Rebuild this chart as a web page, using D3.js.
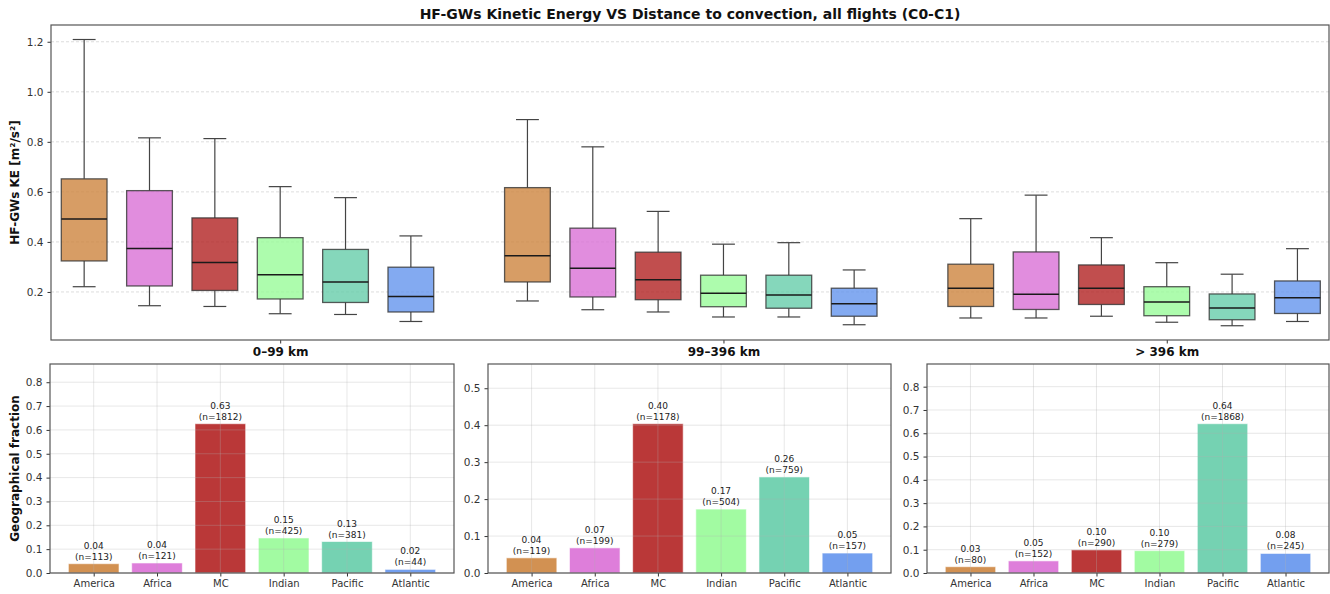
<!DOCTYPE html>
<html>
<head>
<meta charset="utf-8">
<script src="https://cdn.jsdelivr.net/npm/d3@7"></script>
<style>
  body { margin: 0; background: #fff; }
  svg { font-family: "DejaVu Sans", sans-serif; }
</style>
</head>
<body>
<svg id="chart" width="1330" height="594"></svg>
<script>
// categories
const regions = ["America", "Africa", "MC", "Indian", "Pacific", "Atlantic"];
const distanceBins = ["0–99 km", "99–396 km", "> 396 km"];
const keTicks = [0.2, 0.4, 0.6, 0.8, 1.0, 1.2];

// box stats per region: [lower whisker, q1, median, q3, upper whisker]
const boxNear = [
  [0.221, 0.324, 0.492, 0.652, 1.209],
  [0.145, 0.224, 0.374, 0.605, 0.816],
  [0.142, 0.206, 0.318, 0.496, 0.813],
  [0.113, 0.172, 0.269, 0.417, 0.621],
  [0.110, 0.158, 0.240, 0.370, 0.577],
  [0.082, 0.120, 0.182, 0.299, 0.424]
];
const boxMid = [
  [0.164, 0.240, 0.345, 0.617, 0.889],
  [0.129, 0.180, 0.295, 0.455, 0.780],
  [0.120, 0.169, 0.249, 0.359, 0.522],
  [0.100, 0.141, 0.195, 0.267, 0.391],
  [0.100, 0.135, 0.188, 0.267, 0.397],
  [0.069, 0.103, 0.153, 0.215, 0.288]
];
const boxFar = [
  [0.096, 0.142, 0.215, 0.311, 0.493],
  [0.096, 0.130, 0.191, 0.360, 0.587],
  [0.103, 0.150, 0.215, 0.308, 0.417],
  [0.079, 0.105, 0.160, 0.221, 0.317],
  [0.065, 0.089, 0.136, 0.192, 0.271],
  [0.082, 0.114, 0.177, 0.244, 0.373]
];

// geographical fraction and counts per region
const fracNear = [0.039, 0.042, 0.626, 0.147, 0.132, 0.0152];
const countNear = [113, 121, 1812, 425, 381, 44];
const fracMid = [0.041, 0.068, 0.404, 0.173, 0.260, 0.054];
const countMid = [119, 199, 1178, 504, 759, 157];
const fracFar = [0.027, 0.052, 0.0995, 0.096, 0.641, 0.084];
const countFar = [80, 152, 290, 279, 1868, 245];

const fracTicks = [
  [0, 0.1, 0.2, 0.3, 0.4, 0.5, 0.6, 0.7, 0.8],
  [0, 0.1, 0.2, 0.3, 0.4, 0.5],
  [0, 0.1, 0.2, 0.3, 0.4, 0.5, 0.6, 0.7, 0.8]
];

const colors = ["#cd853f", "#da70d6", "#b22222", "#98fb98", "#66cdaa", "#6495ed"];

const svg = d3.select("#chart");
const tickColor = "#333";
const spineColor = "#555";

// title
svg.append("text")
  .attr("x", 690).attr("y", 19)
  .attr("text-anchor", "middle")
  .attr("font-size", 14).attr("font-weight", "bold")
  .attr("fill", "#111")
  .text("HF-GWs Kinetic Energy VS Distance to convection, all flights (C0-C1)");

// ---------- top panel: boxplots ----------
const boxPanel = { left: 51, right: 1329, top: 25, bottom: 340 };
const boxStep = 0.1474;
const x = d3.scaleLinear().domain([-0.517, 2.366]).range([boxPanel.left, boxPanel.right]);
const y = d3.scaleLinear().domain([0.008, 1.267]).range([boxPanel.bottom, boxPanel.top]);

const gTop = svg.append("g");

// dashed horizontal grid
gTop.append("g").selectAll("line")
  .data(keTicks).enter().append("line")
  .attr("x1", boxPanel.left).attr("x2", boxPanel.right)
  .attr("y1", d => y(d)).attr("y2", d => y(d))
  .attr("stroke", "#d4d4d4").attr("stroke-width", 0.8)
  .attr("stroke-dasharray", "3,2");

const boxData = [];
[boxNear, boxMid, boxFar].forEach((bin, g) => {
  bin.forEach((s, i) => {
    boxData.push({ g, i, pos: g + (i - 3) * boxStep, lo: s[0], q1: s[1], med: s[2], q3: s[3], hi: s[4] });
  });
});

const bw = (x(boxStep) - x(0)) * 0.7;
const capW = bw / 2;

const boxes = gTop.append("g").selectAll("g")
  .data(boxData).enter().append("g");

boxes.append("line")
  .attr("x1", d => x(d.pos)).attr("x2", d => x(d.pos))
  .attr("y1", d => y(d.q3)).attr("y2", d => y(d.hi))
  .attr("stroke", "#444").attr("stroke-width", 1.2);
boxes.append("line")
  .attr("x1", d => x(d.pos)).attr("x2", d => x(d.pos))
  .attr("y1", d => y(d.lo)).attr("y2", d => y(d.q1))
  .attr("stroke", "#444").attr("stroke-width", 1.2);
boxes.append("line")
  .attr("x1", d => x(d.pos) - capW / 2).attr("x2", d => x(d.pos) + capW / 2)
  .attr("y1", d => y(d.hi)).attr("y2", d => y(d.hi))
  .attr("stroke", "#444").attr("stroke-width", 1.2);
boxes.append("line")
  .attr("x1", d => x(d.pos) - capW / 2).attr("x2", d => x(d.pos) + capW / 2)
  .attr("y1", d => y(d.lo)).attr("y2", d => y(d.lo))
  .attr("stroke", "#444").attr("stroke-width", 1.2);
boxes.append("rect")
  .attr("x", d => x(d.pos) - bw / 2).attr("width", bw)
  .attr("y", d => y(d.q3)).attr("height", d => y(d.q1) - y(d.q3))
  .attr("fill", d => colors[d.i]).attr("fill-opacity", 0.8)
  .attr("stroke", "#333").attr("stroke-opacity", 0.8).attr("stroke-width", 1.3);
boxes.append("line")
  .attr("x1", d => x(d.pos) - bw / 2).attr("x2", d => x(d.pos) + bw / 2)
  .attr("y1", d => y(d.med)).attr("y2", d => y(d.med))
  .attr("stroke", "#1a1a1a").attr("stroke-width", 1.5);

// axes
gTop.append("g")
  .attr("transform", `translate(${boxPanel.left},0)`)
  .call(d3.axisLeft(y).tickValues(keTicks).tickFormat(d3.format(".1f")).tickSize(3.5).tickPadding(4))
  .call(a => a.select(".domain").remove())
  .call(a => a.selectAll("text").attr("font-size", 10.5).attr("fill", tickColor).attr("font-family", "DejaVu Sans"))
  .call(a => a.selectAll("line").attr("stroke", tickColor));

gTop.append("g")
  .attr("transform", `translate(0,${boxPanel.bottom})`)
  .call(d3.axisBottom(x).tickValues([0, 1, 2]).tickFormat(d => distanceBins[d]).tickSize(3.5).tickPadding(4))
  .call(a => a.select(".domain").remove())
  .call(a => a.selectAll("text").attr("font-size", 12).attr("font-weight", "bold").attr("fill", "#111").attr("font-family", "DejaVu Sans"))
  .call(a => a.selectAll("line").attr("stroke", tickColor));

gTop.append("rect")
  .attr("x", boxPanel.left).attr("y", boxPanel.top)
  .attr("width", boxPanel.right - boxPanel.left).attr("height", boxPanel.bottom - boxPanel.top)
  .attr("fill", "none").attr("stroke", spineColor).attr("stroke-width", 1.2);

svg.append("text")
  .attr("transform", `translate(19,${(boxPanel.top + boxPanel.bottom) / 2}) rotate(-90)`)
  .attr("text-anchor", "middle")
  .attr("font-size", 12).attr("font-weight", "bold").attr("fill", "#111")
  .text("HF-GWs KE [m²/s²]");

// ---------- bottom panels: bar charts ----------
const panels = [
  { left: 50, right: 454, frac: fracNear, count: countNear, ticks: fracTicks[0] },
  { left: 488, right: 891, frac: fracMid, count: countMid, ticks: fracTicks[1] },
  { left: 927, right: 1329, frac: fracFar, count: countFar, ticks: fracTicks[2] }
];
const bTop = 364, bBottom = 573;

panels.forEach((p, k) => {
  const g = svg.append("g");
  const xb = d3.scaleLinear().domain([-0.69, 5.69]).range([p.left, p.right]);
  const yb = d3.scaleLinear().domain([0, d3.max(p.frac) * 1.4]).range([bBottom, bTop]);
  const barW = (xb(1) - xb(0)) * 0.8;

  const rows = regions.map((r, i) => ({ i, r, f: p.frac[i], n: p.count[i] }));

  g.append("g").selectAll("rect")
    .data(rows).enter().append("rect")
    .attr("x", d => xb(d.i) - barW / 2).attr("width", barW)
    .attr("y", d => yb(d.f)).attr("height", d => yb(0) - yb(d.f))
    .attr("fill", d => colors[d.i]).attr("fill-opacity", 0.9)
    .attr("stroke", "#fff").attr("stroke-opacity", 0.6).attr("stroke-width", 1);

  // grid drawn over bars, as matplotlib does by default
  g.append("g").selectAll("line.h")
    .data(p.ticks).enter().append("line")
    .attr("x1", p.left).attr("x2", p.right)
    .attr("y1", d => yb(d)).attr("y2", d => yb(d))
    .attr("stroke", "#b0b0b0").attr("stroke-opacity", 0.3).attr("stroke-width", 1);
  g.append("g").selectAll("line.v")
    .data(rows).enter().append("line")
    .attr("x1", d => xb(d.i)).attr("x2", d => xb(d.i))
    .attr("y1", bTop).attr("y2", bBottom)
    .attr("stroke", "#b0b0b0").attr("stroke-opacity", 0.3).attr("stroke-width", 1);

  const lab = g.append("g").selectAll("text")
    .data(rows).enter().append("text")
    .attr("text-anchor", "middle")
    .attr("font-size", 9).attr("fill", "#222");
  lab.append("tspan")
    .attr("x", d => xb(d.i)).attr("y", d => yb(d.f) - 15)
    .text(d => d.f.toFixed(2));
  lab.append("tspan")
    .attr("x", d => xb(d.i)).attr("y", d => yb(d.f) - 4)
    .text(d => `(n=${d.n})`);

  g.append("g")
    .attr("transform", `translate(${p.left},0)`)
    .call(d3.axisLeft(yb).tickValues(p.ticks).tickFormat(d3.format(".1f")).tickSize(3.5).tickPadding(4))
    .call(a => a.select(".domain").remove())
    .call(a => a.selectAll("text").attr("font-size", 10.5).attr("fill", tickColor).attr("font-family", "DejaVu Sans"))
    .call(a => a.selectAll("line").attr("stroke", tickColor));

  g.append("g")
    .attr("transform", `translate(0,${bBottom})`)
    .call(d3.axisBottom(xb).tickValues(d3.range(regions.length)).tickFormat(i => regions[i]).tickSize(3.5).tickPadding(3))
    .call(a => a.select(".domain").remove())
    .call(a => a.selectAll("text").attr("font-size", 10).attr("fill", tickColor).attr("font-family", "DejaVu Sans"))
    .call(a => a.selectAll("line").attr("stroke", tickColor));

  g.append("rect")
    .attr("x", p.left).attr("y", bTop)
    .attr("width", p.right - p.left).attr("height", bBottom - bTop)
    .attr("fill", "none").attr("stroke", spineColor).attr("stroke-width", 1.2);

  if (k === 0) {
    svg.append("text")
      .attr("transform", `translate(19,${(bTop + bBottom) / 2}) rotate(-90)`)
      .attr("text-anchor", "middle")
      .attr("font-size", 12).attr("font-weight", "bold").attr("fill", "#111")
      .text("Geographical fraction");
  }
});
</script>
</body>
</html>
